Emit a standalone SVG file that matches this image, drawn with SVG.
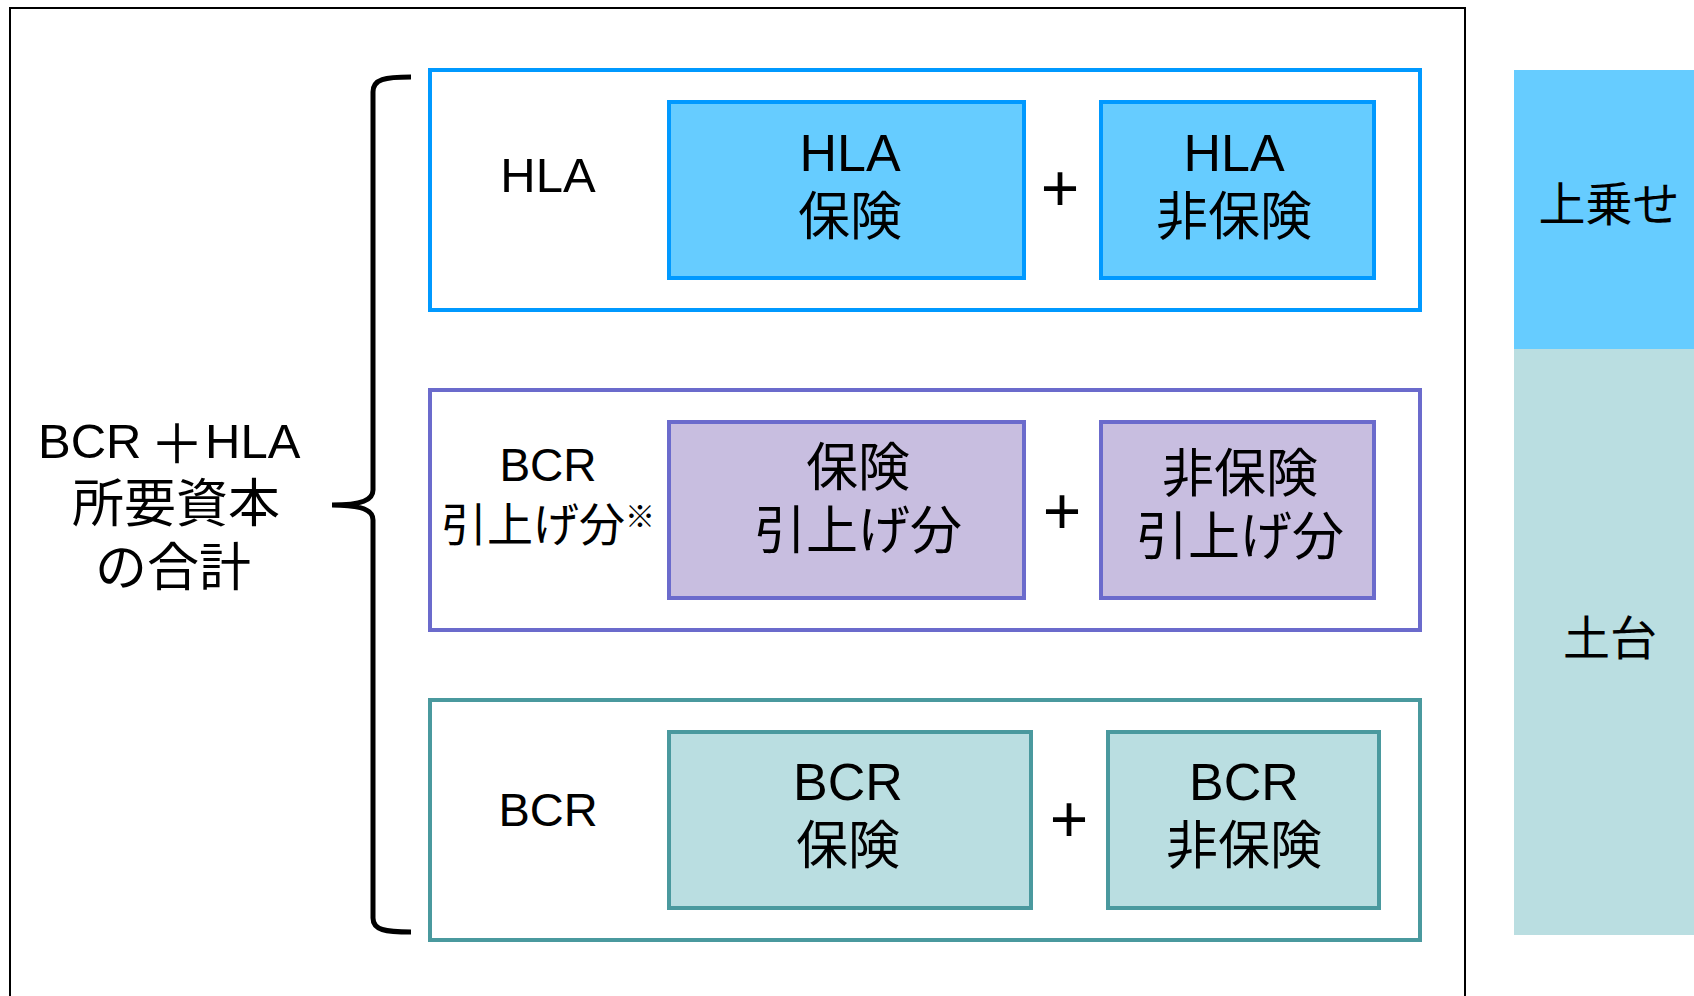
<svg xmlns="http://www.w3.org/2000/svg" width="1694" height="996" viewBox="0 0 1694 996">
  <style>
    .t { font-family: "Liberation Sans", "Noto Sans CJK JP", sans-serif; fill: #000; text-anchor: middle; }
    .ts { font-family: "Liberation Sans", "Noto Sans CJK JP", sans-serif; fill: #000; text-anchor: start; }
    .big { font-size: 52px; }
    .mid { font-size: 47px; }
    .plus { font-family: "Liberation Sans", sans-serif; font-size: 66px; fill: #000; text-anchor: middle; }
    .frame { fill: none; stroke: #000; stroke-width: 2; }
    .outerBlue { fill: #fff; stroke: #0099FF; stroke-width: 4; }
    .innerBlue { fill: #66CCFF; stroke: #0099FF; stroke-width: 4; }
    .outerPurple { fill: #fff; stroke: #6B6BCC; stroke-width: 4; }
    .innerPurple { fill: #C8BEE0; stroke: #6B6BCC; stroke-width: 4; }
    .outerTeal { fill: #fff; stroke: #4A999E; stroke-width: 4; }
    .innerTeal { fill: #BADEE1; stroke: #4A999E; stroke-width: 4; }
    .brace { fill: none; stroke: #000; stroke-width: 5; }
  </style>
  <rect x="0" y="0" width="1694" height="996" fill="#fff"/>

  <g id="frame">
    <rect class="frame" x="10" y="8" width="1455" height="1000"/>
  </g>

  <g id="total-label">
    <text class="ts" font-size="49" x="38" y="458">BCR</text>
    <text class="ts" font-size="54" x="150" y="464" font-family="Noto Sans CJK JP, sans-serif">＋</text>
    <text class="ts" font-size="49" x="205" y="458">HLA</text>
    <text class="t" font-size="52" x="176" y="522">所要資本</text>
    <text class="t" font-size="52" x="173" y="586">の合計</text>
  </g>

  <g id="connectors">
    <path class="brace" d="M 411,77 C 385,77 373,79 373,92 L 373,490 C 373,500 362,505 332,505 C 362,505 373,510 373,520 L 373,918 C 373,930 385,932 411,932"/>
  </g>

  <g id="hla-group">
    <rect class="outerBlue" x="430" y="70" width="990" height="240"/>
    <text class="t" font-size="49" x="548" y="192">HLA</text>
  </g>
  <g id="hla-hoken">
    <rect class="innerBlue" x="669" y="102" width="355" height="176"/>
    <text class="t big" x="850" y="171">HLA</text>
    <text class="t big" x="850" y="235">保険</text>
  </g>
  <text class="plus" x="1060" y="211">+</text>
  <g id="hla-hihoken">
    <rect class="innerBlue" x="1101" y="102" width="273" height="176"/>
    <text class="t big" x="1234" y="171">HLA</text>
    <text class="t big" x="1234" y="235">非保険</text>
  </g>

  <g id="bcr-up-group">
    <rect class="outerPurple" x="430" y="390" width="990" height="240"/>
    <text class="t" font-size="46" x="548" y="481">BCR</text>
    <text class="ts" font-size="46" x="441" y="541">引上げ分<tspan font-size="30" dy="-14">※</tspan></text>
  </g>
  <g id="bcr-up-hoken">
    <rect class="innerPurple" x="669" y="422" width="355" height="176"/>
    <text class="t big" x="858" y="486">保険</text>
    <text class="t big" x="858" y="549">引上げ分</text>
  </g>
  <text class="plus" x="1062" y="534">+</text>
  <g id="bcr-up-hihoken">
    <rect class="innerPurple" x="1101" y="422" width="273" height="176"/>
    <text class="t big" x="1240" y="492">非保険</text>
    <text class="t big" x="1240" y="555">引上げ分</text>
  </g>

  <g id="bcr-group">
    <rect class="outerTeal" x="430" y="700" width="990" height="240"/>
    <text class="t" font-size="47" x="548" y="826">BCR</text>
  </g>
  <g id="bcr-hoken">
    <rect class="innerTeal" x="669" y="732" width="362" height="176"/>
    <text class="t big" x="848" y="800">BCR</text>
    <text class="t big" x="848" y="864">保険</text>
  </g>
  <text class="plus" x="1069" y="842">+</text>
  <g id="bcr-hihoken">
    <rect class="innerTeal" x="1108" y="732" width="271" height="176"/>
    <text class="t big" x="1244" y="800">BCR</text>
    <text class="t big" x="1244" y="864">非保険</text>
  </g>

  <g id="uwanose">
    <rect x="1514" y="70" width="180" height="279" fill="#66CCFF"/>
    <text class="t mid" x="1609" y="221">上乗せ</text>
  </g>
  <g id="dodai">
    <rect x="1514" y="349" width="180" height="586" fill="#BADEE1"/>
    <text class="t mid" x="1610" y="655">土台</text>
  </g>
</svg>
